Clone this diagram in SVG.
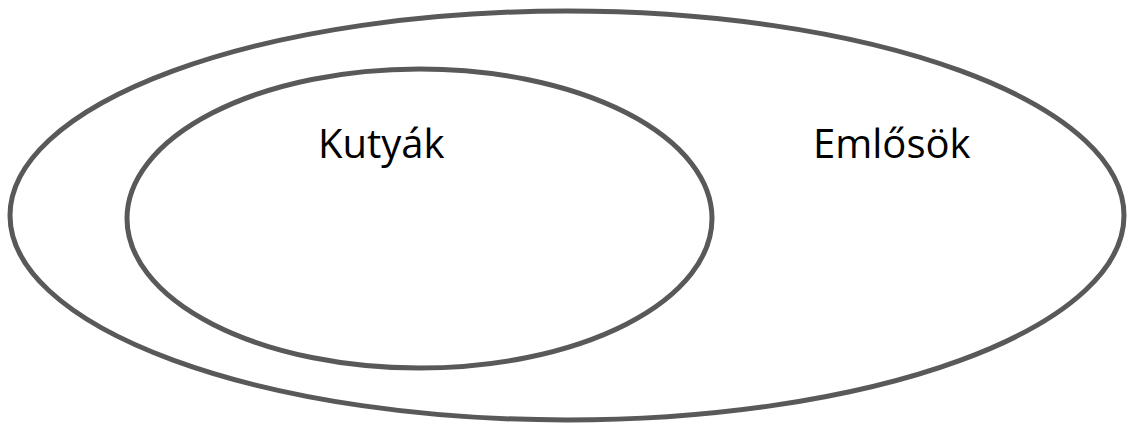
<svg xmlns="http://www.w3.org/2000/svg" width="1127" height="424" viewBox="0 0 1127 424">
<style>
.set{fill:none;stroke:#595959;stroke-width:5}
.lbl{font-family:"Open Sans","Noto Sans",sans-serif;font-size:40px;fill:#000}
</style>
<rect width="1127" height="424" fill="#fff"/>
<g id="emlosok">
<ellipse class="set" cx="567" cy="215.5" rx="557" ry="204.5"/>
<text class="lbl" x="813" y="158">Emlősök</text>
</g>
<g id="kutyak">
<ellipse class="set" cx="419.5" cy="218.5" rx="292.5" ry="149.5"/>
<text class="lbl" x="318" y="158">Kutyák</text>
</g>
<g id="connectors"/>
</svg>
